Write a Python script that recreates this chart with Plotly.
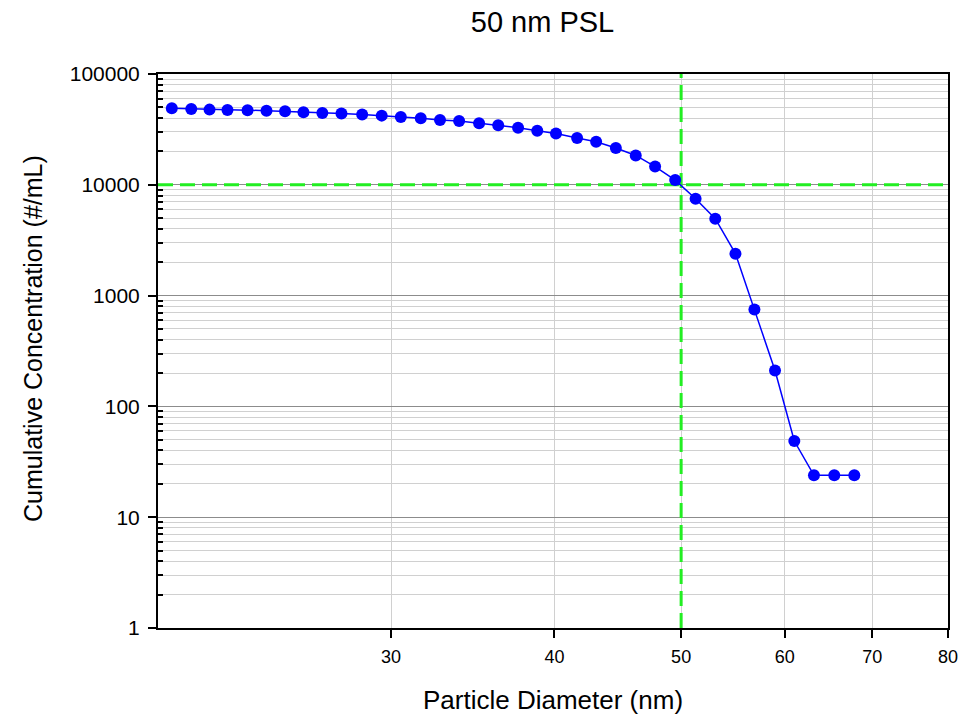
import math
import plotly.graph_objects as go

# Data
diameter_nm = [20.39, 21.10, 21.79, 22.49, 23.30, 24.09, 24.89, 25.71, 26.58, 27.49,
               28.51, 29.51, 30.52, 31.61, 32.70, 33.82, 35.03, 36.23, 37.52, 38.81,
               40.11, 41.63, 43.05, 44.57, 46.16, 47.76, 49.48, 51.29, 53.10, 55.02,
               56.89, 58.99, 61.03, 63.18, 65.48, 67.83]
cum_conc = [49100, 48400, 47700, 47300, 47100, 46700, 46100, 45200, 44500, 43900,
            43000, 42100, 41000, 39900, 38500, 37700, 35900, 34500, 32800, 30800,
            29000, 26500, 24500, 21500, 18400, 14600, 11030, 7480, 4940, 2390,
            748, 211, 48.7, 23.9, 23.9, 23.9]

x_range = [19.9, 80]
y_range = [1, 100000]
x_ticks = [30, 40, 50, 60, 70, 80]
y_ticks = [1, 10, 100, 1000, 10000, 100000]
y_ticktext = ["1", "10", "100", "1000", "10000", "100000"]
y_minor = [m * 10 ** e for e in range(0, 5) for m in range(2, 10)]
ref_diameter = 50
ref_conc = 10000

green = "#22EE22"
dash = "15px,7px"

fig = go.Figure()
# reference lines (drawn first so that the data markers sit on top)
fig.add_trace(go.Scatter(
    x=[ref_diameter, ref_diameter], y=y_range, mode="lines",
    line=dict(color=green, width=3, dash=dash), showlegend=False, hoverinfo="skip",
))
fig.add_trace(go.Scatter(
    x=x_range, y=[ref_conc, ref_conc], mode="lines",
    line=dict(color=green, width=3, dash=dash), showlegend=False, hoverinfo="skip",
))
fig.add_trace(go.Scatter(
    x=diameter_nm, y=cum_conc, mode="lines+markers",
    line=dict(color="#0000FF", width=1.5),
    marker=dict(color="#0000FF", size=12),
    showlegend=False,
))

font_family = "Liberation Sans, Arial, sans-serif"

fig.update_layout(
    width=972, height=716,
    margin=dict(l=158, r=24, t=74, b=88, autoexpand=False),
    paper_bgcolor="white", plot_bgcolor="white",
    font=dict(family=font_family, color="black"),
    title=dict(text="50 nm PSL", font=dict(size=29, family=font_family, color="black"),
               x=(542.5 - 158) / 790, xref="paper", xanchor="center",
               y=1 - 22 / 716, yref="container", yanchor="middle"),
    annotations=[
        dict(text="Cumulative Concentration (#/mL)", textangle=-90,
             xref="paper", yref="paper", x=0, y=0.5, xanchor="center", yanchor="middle",
             xshift=-(158 - 33), yshift=12, showarrow=False,
             font=dict(size=25, family=font_family, color="black")),
        dict(text="Particle Diameter (nm)",
             xref="paper", yref="paper", x=0.5, y=0, xanchor="center", yanchor="middle",
             yshift=-(700 - 628), showarrow=False,
             font=dict(size=26, family=font_family, color="black")),
    ],
)

fig.update_xaxes(
    type="log", range=[math.log10(x_range[0]), math.log10(x_range[1])],
    tickmode="array", tickvals=x_ticks, ticktext=[str(v) for v in x_ticks],
    ticks="outside", ticklen=8, tickwidth=1.5, tickcolor="black",
    tickfont=dict(size=18), ticklabelstandoff=3,
    showgrid=True, gridcolor="#D0D0D0", gridwidth=1,
    showline=True, linecolor="black", linewidth=2, mirror=True,
    zeroline=False, automargin=False,
)
fig.update_yaxes(
    type="log", range=[math.log10(y_range[0]), math.log10(y_range[1])],
    tickmode="array", tickvals=y_ticks, ticktext=y_ticktext,
    ticks="outside", ticklen=8, tickwidth=1.5, tickcolor="black",
    tickfont=dict(size=21), ticklabelstandoff=4,
    showgrid=True, gridcolor="#8C8C8C", gridwidth=1,
    minor=dict(tickmode="array", tickvals=y_minor, ticks="inside", ticklen=5,
               tickwidth=1.5, tickcolor="black",
               showgrid=True, gridcolor="#D0D0D0", gridwidth=1),
    showline=True, linecolor="black", linewidth=2, mirror=True,
    zeroline=False, automargin=False,
)

fig.write_html("out.html")
